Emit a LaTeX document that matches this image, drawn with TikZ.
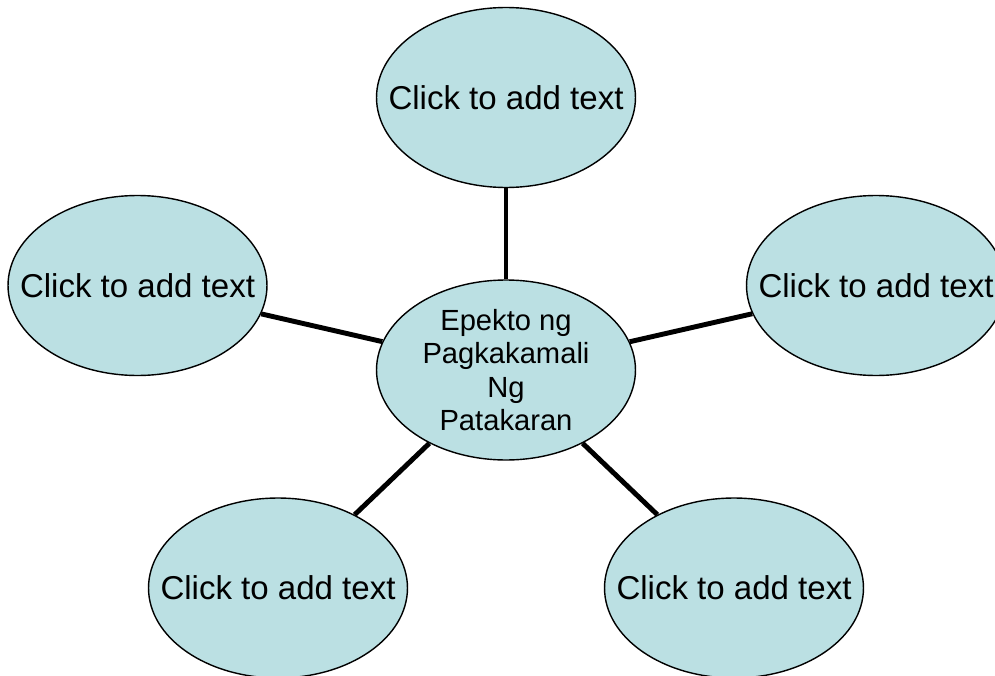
\documentclass[tikz,border=0pt]{standalone}
\usepackage{fontspec}
\setmainfont{Liberation Sans}
\usepackage{xcolor}
\usetikzlibrary{shapes.geometric}

\definecolor{bubblefill}{HTML}{BBE0E3}

\begin{document}
\begin{tikzpicture}[x=0.02cm, y=-0.02cm, every node/.style={ellipse, draw, line width=0.8pt, fill=bubblefill, minimum width=5.18cm, minimum height=3.6cm, inner xsep=-0.7cm, inner ysep=-0.3cm, align=center, font=\fontsize{18.8}{22}\selectfont}]
        \useasboundingbox (0,0) rectangle (995,676);
        \node (hub) [font=\fontsize{16.6}{18.9}\selectfont] at (506,370) {Epekto ng \\ Pagkakamali \\ Ng \\ Patakaran};
        \node (ntop) at (506,97.5) {Click to add text};
        \node (nleft) at (137.5,285.5) {Click to add text};
        \node (nright) at (876,285.5) {Click to add text};
        \node (nbotleft) at (278,588) {Click to add text};
        \node (nbotright) at (734,588) {Click to add text};

        \draw [line width=2.8pt] (hub) -- (ntop);
        \draw [line width=2.8pt] (hub) -- (nleft);
        \draw [line width=2.8pt] (hub) -- (nright);
        \draw [line width=2.8pt] (hub) -- (nbotleft);
        \draw [line width=2.8pt] (hub) -- (nbotright);
    \end{tikzpicture}
\end{document}
